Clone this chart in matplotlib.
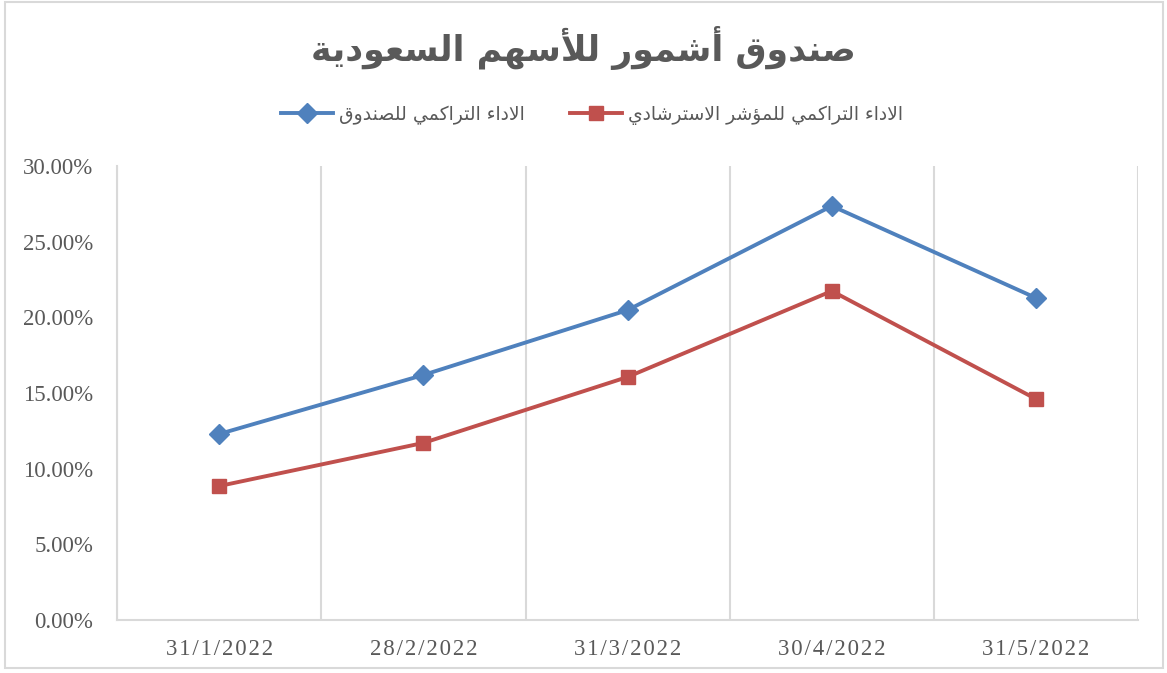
import matplotlib
matplotlib.use("Agg")
import matplotlib.pyplot as plt
from matplotlib.patches import Rectangle

# data
dates = ["31/1/2022", "28/2/2022", "31/3/2022", "30/4/2022", "31/5/2022"]
fund_perf = [12.29, 16.19, 20.48, 27.36, 21.28]
index_perf = [8.85, 11.70, 16.06, 21.74, 14.60]
title_text = "صندوق أشمور للأسهم السعودية"
fund_label = "الاداء التراكمي للصندوق"
index_label = "الاداء التراكمي للمؤشر الاسترشادي"
y_ticks = [0, 5, 10, 15, 20, 25, 30]

# minimal arabic shaping (matplotlib has no shaping / bidi)
FORMS = {
    "ء": (0xFE80,), "آ": (0xFE81, 0xFE82), "أ": (0xFE83, 0xFE84),
    "ؤ": (0xFE85, 0xFE86), "إ": (0xFE87, 0xFE88), "ئ": (0xFE89, 0xFE8A, 0xFE8B, 0xFE8C),
    "ا": (0xFE8D, 0xFE8E), "ب": (0xFE8F, 0xFE90, 0xFE91, 0xFE92),
    "ة": (0xFE93, 0xFE94), "ت": (0xFE95, 0xFE96, 0xFE97, 0xFE98),
    "ث": (0xFE99, 0xFE9A, 0xFE9B, 0xFE9C), "ج": (0xFE9D, 0xFE9E, 0xFE9F, 0xFEA0),
    "ح": (0xFEA1, 0xFEA2, 0xFEA3, 0xFEA4), "خ": (0xFEA5, 0xFEA6, 0xFEA7, 0xFEA8),
    "د": (0xFEA9, 0xFEAA), "ذ": (0xFEAB, 0xFEAC), "ر": (0xFEAD, 0xFEAE),
    "ز": (0xFEAF, 0xFEB0), "س": (0xFEB1, 0xFEB2, 0xFEB3, 0xFEB4),
    "ش": (0xFEB5, 0xFEB6, 0xFEB7, 0xFEB8), "ص": (0xFEB9, 0xFEBA, 0xFEBB, 0xFEBC),
    "ض": (0xFEBD, 0xFEBE, 0xFEBF, 0xFEC0), "ط": (0xFEC1, 0xFEC2, 0xFEC3, 0xFEC4),
    "ظ": (0xFEC5, 0xFEC6, 0xFEC7, 0xFEC8), "ع": (0xFEC9, 0xFECA, 0xFECB, 0xFECC),
    "غ": (0xFECD, 0xFECE, 0xFECF, 0xFED0), "ف": (0xFED1, 0xFED2, 0xFED3, 0xFED4),
    "ق": (0xFED5, 0xFED6, 0xFED7, 0xFED8), "ك": (0xFED9, 0xFEDA, 0xFEDB, 0xFEDC),
    "ل": (0xFEDD, 0xFEDE, 0xFEDF, 0xFEE0), "م": (0xFEE1, 0xFEE2, 0xFEE3, 0xFEE4),
    "ن": (0xFEE5, 0xFEE6, 0xFEE7, 0xFEE8), "ه": (0xFEE9, 0xFEEA, 0xFEEB, 0xFEEC),
    "و": (0xFEED, 0xFEEE), "ى": (0xFEEF, 0xFEF0), "ي": (0xFEF1, 0xFEF2, 0xFEF3, 0xFEF4),
    "\ufef5": (0xFEF5, 0xFEF6), "\ufef7": (0xFEF7, 0xFEF8),
    "\ufef9": (0xFEF9, 0xFEFA), "\ufefb": (0xFEFB, 0xFEFC),
}
LAM_ALEF = {"آ": "\ufef5", "أ": "\ufef7", "إ": "\ufef9", "ا": "\ufefb"}


def shape(text):
    chars = []
    i = 0
    while i < len(text):
        c = text[i]
        if c == "ل" and i + 1 < len(text) and text[i + 1] in LAM_ALEF:
            chars.append(LAM_ALEF[text[i + 1]])
            i += 2
            continue
        chars.append(c)
        i += 1
    out = []
    for k, c in enumerate(chars):
        f = FORMS.get(c)
        if f is None:
            out.append(c)
            continue
        prev = FORMS.get(chars[k - 1]) if k > 0 else None
        nxt = FORMS.get(chars[k + 1]) if k + 1 < len(chars) else None
        join_prev = prev is not None and len(prev) == 4 and len(f) > 1
        join_next = nxt is not None and len(f) == 4 and len(nxt) > 1
        if join_prev and join_next:
            out.append(chr(f[3]))
        elif join_prev:
            out.append(chr(f[1]))
        elif join_next:
            out.append(chr(f[2]))
        else:
            out.append(chr(f[0]))
    return "".join(out)[::-1]


grey = "#595959"
grid_c = "#D9D9D9"

fig = plt.figure(figsize=(11.67, 6.73), dpi=100)
ax = fig.add_axes([0.1003, 0.0788, 0.875, 0.6745])

x = list(range(len(dates)))
ax.plot(x, fund_perf, color="#4F81BD", lw=2.8, marker="D", ms=10,
        label=shape(fund_label))
ax.plot(x, index_perf, color="#C0504D", lw=2.8, marker="s", ms=10.5,
        label=shape(index_label))

ax.set_xlim(-0.5, len(dates) - 0.5)
ax.set_ylim(0, 30)
ax.set_yticks(y_ticks)
ax.set_yticklabels([f"{v:.2f}%" for v in y_ticks], family="Liberation Serif",
                   fontsize=16.5, color=grey)
ax.set_xticks(x)
# excel spreads the date labels out a little
ax.set_xticklabels(["\u200a".join(d) for d in dates],
                   family=["Liberation Serif", "DejaVu Sans"], fontsize=16.5, color=grey)
ax.set_xticks([i - 0.5 for i in range(len(dates) + 1)], minor=True)
ax.grid(which="minor", axis="x", color=grid_c, lw=1.5)
ax.tick_params(which="both", length=0)
ax.tick_params(axis="x", pad=14)
ax.tick_params(axis="y", pad=17)
for s in ["top", "right"]:
    ax.spines[s].set_visible(False)
for s in ["left", "bottom"]:
    ax.spines[s].set_color(grid_c)
    ax.spines[s].set_linewidth(1.5)

fig.text(0.5, 1 - 48 / 673, shape(title_text), ha="center", va="center",
         fontsize=25, fontweight="bold", color=grey, family="DejaVu Sans")

leg = fig.legend(loc="center", bbox_to_anchor=(0.507, 1 - 115 / 673), ncol=2,
                 frameon=False, prop={"family": "DejaVu Sans", "size": 13.5},
                 handlelength=2.8, columnspacing=2.4, handletextpad=0.3)
for t in leg.get_texts():
    t.set_color(grey)

fig.patches.append(Rectangle((0.004, 0.007), 0.993, 0.99, transform=fig.transFigure,
                             fill=False, edgecolor=grid_c, lw=1.5))

fig.savefig("out.png", dpi=100)
